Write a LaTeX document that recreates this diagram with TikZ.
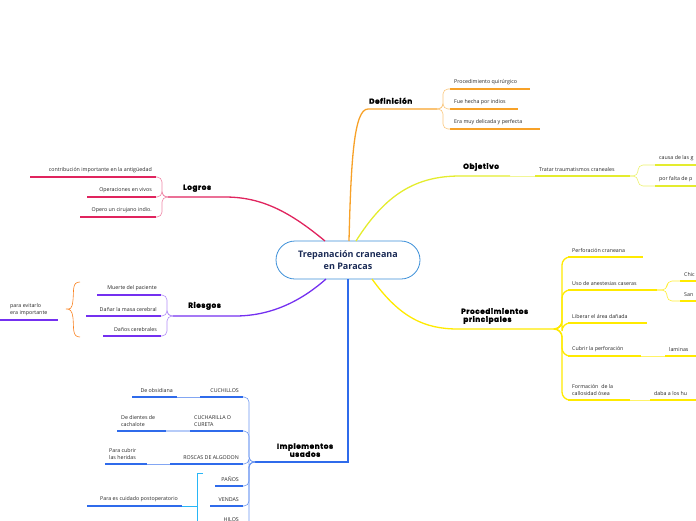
\documentclass[tikz,border=0pt]{standalone}
\usepackage{fontspec}
\setmainfont{Open Sans}
\newfontfamily\headfont{Poppins}[FakeBold=2.5,LetterSpace=8]
\usetikzlibrary{calc}
\definecolor{cDef}{HTML}{F7A128}
\definecolor{cObj}{HTML}{E4EC2E}
\definecolor{cPro}{HTML}{FFEA00}
\definecolor{cLog}{HTML}{E0245E}
\definecolor{cRie}{HTML}{7430F0}
\definecolor{cImp}{HTML}{2F6BEB}
\definecolor{cCtr}{HTML}{3C8FD8}
\definecolor{cTxt}{HTML}{1A2A55}
\definecolor{cCya}{HTML}{29B6F6}
\tikzset{
  leaftext/.style={font=\fontsize{5.3}{7}\selectfont, inner sep=0pt, align=left, text=black!85},
  headtext/.style={font=\headfont\bfseries\fontsize{7.3}{8}\selectfont, inner sep=0pt, align=left},
  branch/.style={line width=1.3pt},
  twig/.style={line width=0.6pt, rounded corners=5pt},
}
% right leaf: name, x1, x2, y, text, color
\newcommand\Rleaf[6]{%
  \draw[branch,#6] (#2,#4) coordinate (#1-l) -- (#3,#4) coordinate (#1-r);
  \node[leaftext, anchor=south west] (#1) at (#2+4,#4-4) {#5};}
% left leaf (text right aligned)
\newcommand\Lleaf[6]{%
  \draw[branch,#6] (#2,#4) coordinate (#1-l) -- (#3,#4) coordinate (#1-r);
  \node[leaftext, anchor=south east, align=right] (#1) at (#3-4,#4-4) {#5};}
\begin{document}
\begin{tikzpicture}[x=1pt,y=-1pt]
\useasboundingbox (0,0) rectangle (696,520);
% center
\node[draw=cCtr, line width=0.8pt, rounded corners=19pt, minimum width=144pt, minimum height=38pt,
  align=center, text=cTxt, font=\bfseries\fontsize{9}{12}\selectfont] (ctr) at (348,260)
  {Trepanación craneana\\en Paracas};

% ---------- Definición
\draw[branch,cDef] (349,241) .. controls (351,160) and (354,109) .. (368,109) coordinate (def-l) -- (437,109) coordinate (def-hub);
\node[headtext, anchor=south west] (def) at (369,104) {Definición};
\Rleaf{d1}{450}{530}{89}{Procedimiento quirúrgico}{cDef}
\Rleaf{d2}{450}{518}{109}{Fue hecha por indios}{cDef}
\Rleaf{d3}{450}{540}{129}{Era muy delicada y perfecta}{cDef}
\foreach \c in {d1-l,d2-l,d3-l} \draw[twig,cDef!60] (def-hub) -- ++(6,0) |- (\c);

% ---------- Objetivo
\draw[branch,cObj] (356,241) .. controls (385,195) and (415,176) .. (460,176) coordinate (obj-l) -- (510,176) coordinate (obj-r);
\node[headtext, anchor=south west] (obj) at (463,171) {Objetivo};
\Rleaf{o1}{535}{630}{176}{Tratar traumatismos craneales}{cObj}
\draw[line width=0.6pt,cObj!50] (obj-r) -- (o1-l);
\Rleaf{o2}{655}{696}{165}{causa de las g}{cObj}
\Rleaf{o3}{655}{696}{186}{por falta de p}{cObj}
\foreach \c in {o2-l,o3-l} \draw[twig,cObj!70] (o1-r) -- ++(8,0) |- (\c);

% ---------- Procedimientos
\draw[branch,cPro] (372,279) .. controls (400,318) and (425,329) .. (458,329) coordinate (pro-l) -- (556,329) coordinate (pro-hub);
\node[headtext, anchor=south west] (pro) at (461,324) {Procedimientos\\\ principales};
\Rleaf{p1}{568}{643}{257}{Perforación craneana}{cPro}
\Rleaf{p2}{568}{657}{290}{Uso de anestesias caseras}{cPro}
\Rleaf{p3}{568}{647}{323}{Liberar el área dañada}{cPro}
\Rleaf{p4}{568}{641}{356}{Cubrir la perforación}{cPro}
\Rleaf{p5}{568}{630}{400}{Formación\ \ de la\\callosidad ósea}{cPro}
\foreach \c in {p1-l,p2-l,p3-l,p4-l,p5-l} \draw[branch,cPro,rounded corners=8pt] (pro-hub) -- ++(6,0) |- (\c);
\Rleaf{p21}{680}{696}{281}{Chic}{cPro}
\Rleaf{p22}{680}{696}{301}{San}{cPro}
\foreach \c in {p21-l,p22-l} \draw[twig,cPro!80] (p2-r) -- ++(10,0) |- (\c);
\Rleaf{p41}{665}{696}{356}{laminas}{cPro}
\draw[line width=0.6pt,cPro!60] (p4-r) -- (p41-l);
\Rleaf{p51}{650}{696}{400}{daba a los hu}{cPro}
\draw[line width=0.6pt,cPro!60] (p5-r) -- (p51-l);

% ---------- Logros
\draw[branch,cLog] (325,241) .. controls (290,212) and (262,197) .. (225,197) coordinate (log-r) -- (168,197) coordinate (log-hub);
\node[headtext, anchor=south west] (log) at (183,192) {Logros};
\Lleaf{l1}{30}{156}{177}{contribución importante en la antigüedad}{cLog}
\Lleaf{l2}{87}{156}{197}{Operaciones en vivos}{cLog}
\Lleaf{l3}{80}{156}{217}{Opero un cirujano indio.}{cLog}
\foreach \c in {l1-r,l2-r,l3-r} \draw[twig,cLog!55] (log-hub) -- ++(-6,0) |- (\c);

% ---------- Riesgos
\draw[branch,cRie] (326,279) .. controls (300,302) and (270,316) .. (235,316) coordinate (rie-r) -- (173,316) coordinate (rie-hub);
\node[headtext, anchor=south west] (rie) at (188,310) {Riesgos};
\Lleaf{r1}{97}{161}{295}{Muerte del paciente}{cRie}
\Lleaf{r2}{86}{161}{316}{Dañar la masa cerebral}{cRie}
\Lleaf{r3}{103}{161}{336}{Daños cerebrales}{cRie}
\foreach \c in {r1-r,r2-r,r3-r} \draw[twig,cRie!55] (rie-hub) -- ++(-6,0) |- (\c);
\draw[branch,cRie] (0,320) coordinate (pe-l) -- (58,320) coordinate (pe-r);
\node[leaftext, anchor=south west] (pe) at (10,316) {para evitarlo\\era importante};
\draw[line width=0.6pt,cDef!80!red] (80,282) .. controls (72,282) and (74,290) .. (73,300) .. controls (72,310) and (70,309) .. (66,309)
  .. controls (70,309) and (72,310) .. (73,318) .. controls (74,328) and (72,337) .. (80,337);

% ---------- Implementos
\draw[branch,cImp] (348,279) -- (348,462) -- (255,462) coordinate (imp-hub);
\node[headtext, anchor=south, align=center] (imp) at (305,457) {Implementos\\usados};
\Lleaf{i1}{200}{243}{397}{CUCHILLOS}{cImp}
\Rleaf{i2}{190}{243}{431}{CUCHARILLA O\\CURETA}{cImp}
\Lleaf{i3}{170}{243}{464}{ROSCAS DE ALGODON}{cImp}
\Lleaf{i4}{215}{243}{486}{PAÑOS}{cImp}
\Lleaf{i5}{210}{243}{506}{VENDAS}{cImp}
\Lleaf{i6}{210}{243}{526}{HILOS}{cImp}
\foreach \c in {i1-r,i2-r,i3-r,i4-r,i5-r,i6-r} \draw[twig,cImp!70] (imp-hub) -- ++(-6,0) |- (\c);
\Lleaf{i11}{132}{177}{397}{De obsidiana}{cImp}
\draw[line width=0.6pt,cImp!60] (i11-r) -- (i1-l);
\Rleaf{i21}{117}{166}{431}{De dientes de\\cachalote}{cImp}
\draw[line width=1.3pt,cImp!35] (i21-r) -- (i2-l);
\Rleaf{i31}{105}{147}{464}{Para cubrir\\las heridas}{cImp}
\draw[line width=0.6pt,cImp!60] (i31-r) -- (i3-l);
\Lleaf{i51}{87}{182}{506}{Para es cuidado postoperatorio}{cImp}
\draw[line width=0.6pt,cCya] (203,473) -- (197,473) -- (197,530);
\draw[line width=0.6pt,cCya] (i51-r) -- (197,506);
\end{tikzpicture}
\end{document}
